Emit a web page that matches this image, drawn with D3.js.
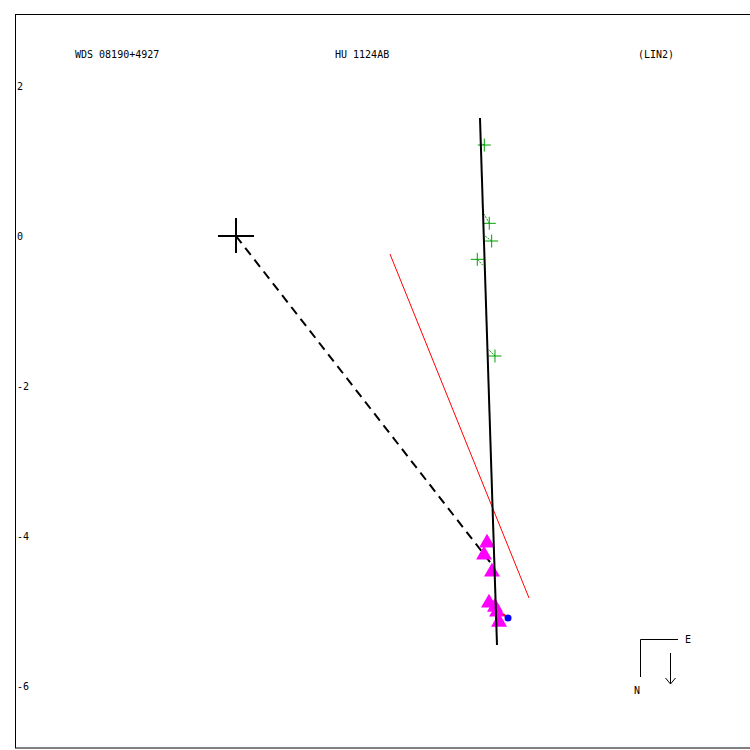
<!DOCTYPE html>
<html>
<head>
<meta charset="utf-8">
<script src="https://cdn.jsdelivr.net/npm/d3@7"></script>
<style>
  body { margin: 0; background: #fff; }
  text { font-family: "DejaVu Sans Mono", monospace; font-size: 10px; fill: #000; }
</style>
</head>
<body>
<div id="chart"></div>
<script>
// header labels
var titles = ["WDS 08190+4927", "HU 1124AB", "(LIN2)"];
var yTicks = [2, 0, -2, -4, -6];

// micrometer observations (green crosses) and their model positions
var crossX = [3.311, 3.377, 3.409, 3.217, 3.453];
var crossY = [1.213, 0.169, -0.067, -0.311, -1.600];
var crossFitX = [3.253, 3.311, 3.320, 3.297, 3.364];
var crossFitY = [1.240, 0.289, 0.000, -0.396, -1.511];

// interferometric observations (magenta triangles)
var triX = [3.347, 3.307, 3.413, 3.373, 3.453, 3.480, 3.507];
var triY = [-4.093, -4.253, -4.480, -4.893, -4.947, -5.013, -5.147];

// blue point + residual
var blueX = [3.627], blueY = [-5.093];
var blueFitX = [3.560], blueFitY = [-5.040];

// orbit (linear solution), red line, node line
var orbitX = [3.253, 3.480], orbitY = [1.573, -5.453];
var redX = [2.053, 3.907], redY = [-0.240, -4.827];
var nodeX = [0, 3.387], nodeY = [0, -4.347];

var svgWidth = 750, svgHeight = 750;
var svg = d3.select("#chart").append("svg")
  .attr("width", svgWidth)
  .attr("height", svgHeight);

var xScale = d3.scaleLinear().domain([-3, 7]).range([11, 761]);
var yScale = d3.scaleLinear().domain([2, -6]).range([86, 686]);

// frame
svg.append("rect")
  .attr("x", 15.5).attr("y", 14.5)
  .attr("width", 740).attr("height", 733.5)
  .attr("fill", "none").attr("stroke", "#000").attr("stroke-width", 1);

// y axis labels
var leftAxis = d3.axisRight(yScale)
  .tickValues(yTicks)
  .tickSize(0)
  .tickPadding(2)
  .tickFormat(d => String(d));
var ag = svg.append("g").attr("transform", "translate(15,0)").call(leftAxis);
ag.select(".domain").remove();
ag.selectAll("text").style("font-family", "DejaVu Sans Mono").style("font-size", "10px");

// titles
svg.selectAll("text.title")
  .data(titles)
  .join("text")
  .attr("class", "title")
  .attr("x", (d, i) => [75, 335, 638][i])
  .attr("y", 58)
  .text(d => d);

var line = d3.line().x(d => xScale(d[0])).y(d => yScale(d[1]));

// node line (dashed)
svg.append("path")
  .attr("d", line(d3.zip(nodeX, nodeY)))
  .attr("stroke", "#000").attr("stroke-width", 2)
  .attr("stroke-dasharray", "9,6").attr("fill", "none");

// red line
svg.append("path")
  .attr("d", line(d3.zip(redX, redY)))
  .attr("stroke", "#ff0000").attr("stroke-width", 1).attr("fill", "none");

// primary star
var cx = xScale(0), cy = yScale(0);
svg.append("path")
  .attr("d", `M${cx - 18},${cy}H${cx + 18}M${cx},${cy - 18}V${cy + 17}`)
  .attr("stroke", "#000").attr("stroke-width", 2);

// green residuals + crosses
var crosses = d3.range(crossX.length);
svg.selectAll("line.res")
  .data(crosses)
  .join("line")
  .attr("x1", i => xScale(crossX[i])).attr("y1", i => yScale(crossY[i]))
  .attr("x2", i => xScale(crossFitX[i])).attr("y2", i => yScale(crossFitY[i]))
  .attr("stroke", "#00a000").attr("stroke-width", 1).attr("stroke-dasharray", "2,1");
svg.selectAll("path.cross")
  .data(crosses)
  .join("path")
  .attr("d", i => {
    var x = xScale(crossX[i]), y = yScale(crossY[i]);
    return `M${x - 6.5},${y}H${x + 6.5}M${x},${y - 6.5}V${y + 6.5}`;
  })
  .attr("stroke", "#00a000").attr("stroke-width", 1);

// triangles
svg.selectAll("path.tri")
  .data(d3.range(triX.length))
  .join("path")
  .attr("transform", i => `translate(${xScale(triX[i])},${yScale(triY[i])})`)
  .attr("d", d3.symbol().type(d3.symbolTriangle).size(110))
  .attr("fill", "#ff00ff");

// blue point
svg.append("line")
  .attr("x1", xScale(blueX[0])).attr("y1", yScale(blueY[0]))
  .attr("x2", xScale(blueFitX[0])).attr("y2", yScale(blueFitY[0]))
  .attr("stroke", "#ff0000").attr("stroke-width", 2);
svg.append("circle")
  .attr("cx", xScale(blueX[0])).attr("cy", yScale(blueY[0]))
  .attr("r", 3.5).attr("fill", "#0000ff");

// orbit line
svg.append("path")
  .attr("d", line(d3.zip(orbitX, orbitY)))
  .attr("stroke", "#000").attr("stroke-width", 2).attr("fill", "none");

// compass
svg.append("path")
  .attr("d", "M640.5,677V639.5H678")
  .attr("stroke", "#000").attr("stroke-width", 1).attr("fill", "none");
svg.append("path")
  .attr("d", "M670.5,653V684M665.5,678L670.5,684L675.5,678")
  .attr("stroke", "#000").attr("stroke-width", 1).attr("fill", "none");
svg.append("text").attr("x", 685).attr("y", 643).text("E");
svg.append("text").attr("x", 634).attr("y", 694).text("N");
</script>
</body>
</html>
